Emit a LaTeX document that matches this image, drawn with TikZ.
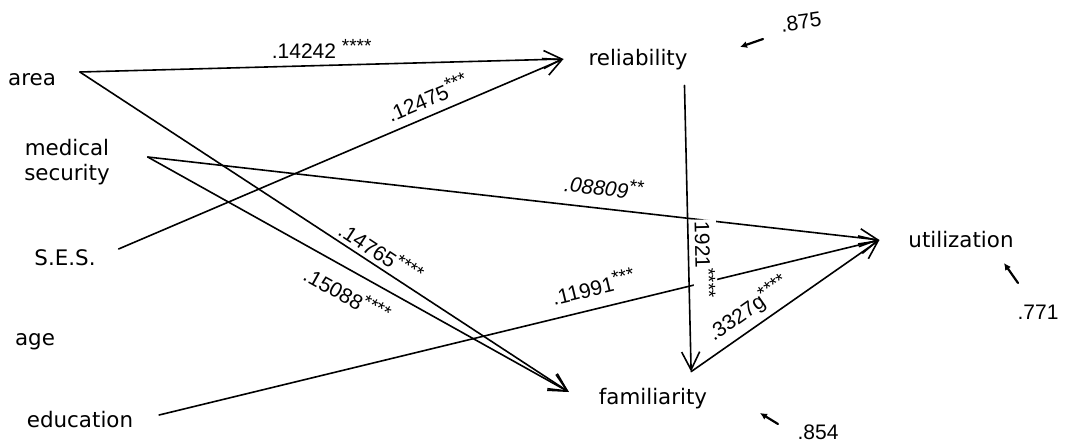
\documentclass[tikz,border=0pt]{standalone}
\usepackage{fontspec}
\setmainfont{DejaVu Sans}
\newfontfamily\coeffont{Liberation Sans}
\usetikzlibrary{arrows.meta}

\newcommand\stars[1]{\raisebox{.55ex}{\fontsize{9.5}{10}\selectfont#1}}

\tikzset{
  var/.style={inner sep=0pt,outer sep=0pt,align=center,
    font=\fontsize{10.7}{12.5}\selectfont},
  link/.style={line width=.8pt,-{Straight Barb[length=9pt,width=9pt]}},
  coef/.style={inner sep=1pt,font=\coeffont\fontsize{10.5}{12}\selectfont},
  err/.style={inner sep=0pt,font=\coeffont\fontsize{10.5}{12}\selectfont},
  resid/.style={line width=1.1pt,-{Latex[length=3.5pt,width=3.5pt]}},
}

\begin{document}
\begin{tikzpicture}[x=.5pt,y=-.5pt,line cap=round,line join=round]
  \useasboundingbox (0,0) rectangle (1066,445);
  % variables
  \node[var] (area) at (32,80) {area};
  \node[var] (medical) at (67,162) {medical\\security};
  \node[var] (ses) at (65,258) {S.E.S.};
  \node[var] (age) at (35,342) {age};
  \node[var] (edu) at (80,420) {education};
  \node[var] (rel) at (638,60) {reliability};
  \node[var] (fam) at (653,399) {familiarity};
  \node[var] (util) at (961,240) {utilization};
  % ports
  \coordinate (area-o) at ([shift={(24,-8)}]area.east);
  \coordinate (med-o) at ([shift={(38,-5)}]medical.east);
  \coordinate (ses-o) at ([shift={(23,-9)}]ses.east);
  \coordinate (edu-o) at ([shift={(26,-5)}]edu.east);
  \coordinate (rel-i) at ([shift={(-25,-1)}]rel.west);
  \coordinate (rel-o) at ([shift={(-3,15)}]rel.south east);
  \coordinate (fam-i) at ([shift={(-30,-7)}]fam.west);
  \coordinate (fam-t) at ([shift={(-16,-17)}]fam.north east);
  \coordinate (util-i) at ([shift={(-29,0)}]util.west);
  % paths
  \draw[link] (area-o) -- node[coef,above=2pt]{.14242 \stars{****}} (rel-i);
  \draw[link] (ses-o) -- node[coef,sloped,above=3pt,pos=.71]{.12475\stars{***}} (rel-i);
  \draw[link] (area-o) -- node[coef,sloped,above=1pt,pos=.6]{.14765\stars{****}} (fam-i);
  \draw[link] (med-o) -- node[coef,sloped,below=5pt,pos=.5]{.15088\stars{****}} (fam-i);
  \draw[link] (med-o) -- node[coef,sloped,above=5pt,pos=.62]{\itshape .08809\stars{**}} (util-i);
  \draw[link] (edu-o) -- node[coef,sloped,above=5pt,pos=.61]{.11991\stars{***}} (util-i);
  \draw[link] (fam-t) -- node[coef,sloped,above=2pt,pos=.36]{.3327g\stars{****}} (util-i);
  \draw[link] (rel-o) -- node[coef,sloped,above=2pt,pos=.61,fill=white]{1921\stars{****}} (fam-t);
  % residuals
  \node[err,rotate=8] (e875) at (801,22) {.875};
  \node[err] (e771) at (1038,312) {.771};
  \node[err] (e854) at (818,432) {.854};
  \draw[resid] ([shift={(-38,17)}]e875.center) -- ++(-23,8);
  \draw[resid] ([shift={(-20,-29)}]e771.center) -- ++(-14,-20);
  \draw[resid] ([shift={(-40,-8)}]e854.center) -- ++(-18,-11);
\end{tikzpicture}
\end{document}
